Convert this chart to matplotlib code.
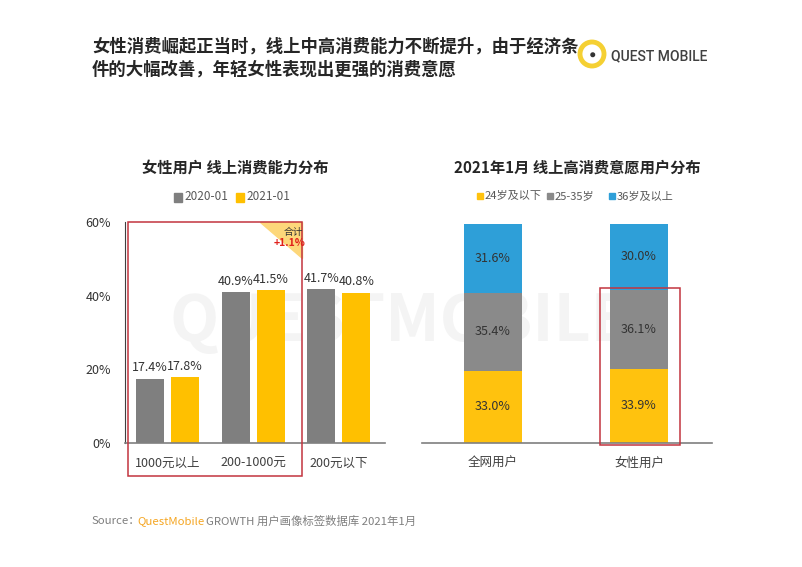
import numpy as np
import matplotlib.pyplot as plt
from matplotlib.patches import Rectangle, Polygon, Circle

plt.rcParams['font.family'] = ['Noto Sans CJK SC', 'DejaVu Sans']

# left chart data
spend_cats = ['1000元以上', '200-1000元', '200元以下']
spend_2020 = [17.4, 40.9, 41.7]
spend_2021 = [17.8, 41.5, 40.8]

# right chart data
user_groups = ['全网用户', '女性用户']
age_le24 = [33.0, 33.9]
age_25_35 = [35.4, 36.1]
age_ge36 = [31.6, 30.0]

W, H = 802, 567
fig = plt.figure(figsize=(W / 100, H / 100), dpi=100)
fig.patch.set_facecolor('white')


def px(x, y):
    return x / W, 1 - y / H


def add_ax(x0, y0, x1, y1):
    return fig.add_axes([x0 / W, 1 - y1 / H, (x1 - x0) / W, (y1 - y0) / H])


dark = '#262626'
gray_txt = '#595959'

# faint watermark behind everything
fig.text(*px(400, 322), 'QUESTMOBILE', fontsize=46, color='#f4f4f4',
         ha='center', va='center', fontweight='bold', zorder=-5)

# title
fig.text(*px(92, 47), '女性消费崛起正当时，线上中高消费能力不断提升，由于经济条',
         fontsize=12.5, fontweight='bold', color=dark, va='center')
fig.text(*px(92, 70), '件的大幅改善，年轻女性表现出更强的消费意愿',
         fontsize=12.5, fontweight='bold', color=dark, va='center')

# logo
lax = add_ax(577, 38, 607, 70)
lax.set_xlim(-1, 1); lax.set_ylim(-1, 1); lax.set_aspect('equal'); lax.axis('off')
lax.add_patch(Circle((0, 0), 0.8, fill=False, ec='#F5D033', lw=3.5))
lax.add_patch(Circle((0.05, -0.05), 0.12, color='#333333'))
fig.text(*px(611, 56), 'QUEST MOBILE', fontsize=10, color='#404040', fontweight='medium',
         va='center', family=['Roboto', 'DejaVu Sans'])

# ---------- left chart ----------
ax1 = add_ax(125, 222, 385, 443)
ax1.set_facecolor('none')
x = np.arange(len(spend_cats))
bw = 0.33
off = 0.205
ax1.bar(x - off, spend_2020, bw, color='#7F7F7F', zorder=2)
ax1.bar(x + off, spend_2021, bw, color='#FFC000', zorder=2)
for i in range(len(x)):
    ax1.text(x[i] - off, spend_2020[i] + 1.2, f'{spend_2020[i]:.1f}%', ha='center',
             va='bottom', fontsize=9, color='#333333')
    ax1.text(x[i] + off, spend_2021[i] + 1.2, f'{spend_2021[i]:.1f}%', ha='center',
             va='bottom', fontsize=9, color='#333333')
ax1.set_xlim(-0.5, 2.54)
ax1.set_ylim(0, 60)
ax1.set_yticks([0, 20, 40, 60])
ax1.set_yticklabels(['0%', '20%', '40%', '60%'], fontsize=9, color='#333333')
ax1.set_xticks(x)
ax1.set_xticklabels(spend_cats, fontsize=9, color='#404040')
ax1.tick_params(length=0, pad=10)
for s in ['top', 'right']:
    ax1.spines[s].set_visible(False)
ax1.spines['left'].set_color('#404040')
ax1.spines['bottom'].set_color('#7f7f7f')
ax1.spines['bottom'].set_linewidth(1.2)

fig.text(*px(235, 168), '女性用户 线上消费能力分布', fontsize=11, fontweight='bold',
         color=dark, ha='center', va='center')
# legend left
fig.add_artist(Rectangle(px(174, 202), 8 / W, 9 / H, color='#7F7F7F', transform=fig.transFigure))
fig.text(*px(184, 197), '2020-01', fontsize=8.5, color=gray_txt, va='center')
fig.add_artist(Rectangle(px(236, 202), 8 / W, 9 / H, color='#FFC000', transform=fig.transFigure))
fig.text(*px(246, 197), '2021-01', fontsize=8.5, color=gray_txt, va='center')

# red highlight box + corner tag
fig.add_artist(Polygon([px(260, 222), px(302, 222), px(302, 258)], closed=True,
                       color='#FDD77A', transform=fig.transFigure, zorder=3))
fig.add_artist(Rectangle(px(128, 476), 174 / W, 254 / H, fill=False, ec='#C2343F',
                         lw=1.1, transform=fig.transFigure, zorder=4))
fig.text(*px(293, 232), '合计', fontsize=7, color='#333333', ha='center', va='center', zorder=5)
fig.text(*px(290, 243), '+1.1%', fontsize=7.5, color='#E0201B', fontweight='bold',
         ha='center', va='center', zorder=5)

# ---------- right chart ----------
ax2 = add_ax(422, 222, 712, 443)
ax2.set_facecolor('none')
xr = np.arange(len(user_groups))
bw2 = 0.40
b1 = np.array(age_le24)
b2 = b1 + np.array(age_25_35)
ax2.bar(xr, age_le24, bw2, color='#FFC20E', zorder=2)
ax2.bar(xr, age_25_35, bw2, bottom=b1, color='#8A8A8A', zorder=2)
ax2.bar(xr, age_ge36, bw2, bottom=b2, color='#2E9FD8', zorder=2)
for i in range(len(xr)):
    ax2.text(xr[i], age_le24[i] / 2, f'{age_le24[i]:.1f}%', ha='center', va='center',
             fontsize=9, color='#333333')
    ax2.text(xr[i], b1[i] + age_25_35[i] / 2, f'{age_25_35[i]:.1f}%', ha='center',
             va='center', fontsize=9, color='#333333')
    ax2.text(xr[i], b2[i] + age_ge36[i] / 2, f'{age_ge36[i]:.1f}%', ha='center',
             va='center', fontsize=9, color='#333333')
ax2.set_xlim(-0.486, 1.5)
ax2.set_ylim(0, 100 * 221 / 219)
ax2.set_yticks([])
ax2.set_xticks(xr)
ax2.set_xticklabels(user_groups, fontsize=9, color='#404040')
ax2.tick_params(length=0, pad=10)
for s in ['top', 'right', 'left']:
    ax2.spines[s].set_visible(False)
ax2.spines['bottom'].set_color('#7f7f7f')
ax2.spines['bottom'].set_linewidth(1.2)

fig.text(*px(577, 168), '2021年1月 线上高消费意愿用户分布', fontsize=11, fontweight='bold',
         color=dark, ha='center', va='center')
leg = [('24岁及以下', '#FFC20E', 477), ('25-35岁', '#8A8A8A', 547), ('36岁及以上', '#2E9FD8', 609)]
for lab, c, lx in leg:
    fig.add_artist(Rectangle(px(lx, 199), 6 / W, 6 / H, color=c, transform=fig.transFigure))
    fig.text(*px(lx + 8, 196), lab, fontsize=8, color=gray_txt, va='center')

fig.add_artist(Rectangle(px(600, 445), 80 / W, 157 / H, fill=False, ec='#C2343F',
                         lw=1.1, transform=fig.transFigure, zorder=4))

# source
fig.text(*px(92, 521), 'Source：', fontsize=8.2, color='#7f7f7f', va='center')
fig.text(*px(137, 521), 'QuestMobile', fontsize=8.2, color='#F5A623', va='center')
fig.text(*px(206, 521), 'GROWTH 用户画像标签数据库 2021年1月', fontsize=8.2,
         color='#7f7f7f', va='center')

fig.savefig('out.png', dpi=100)
